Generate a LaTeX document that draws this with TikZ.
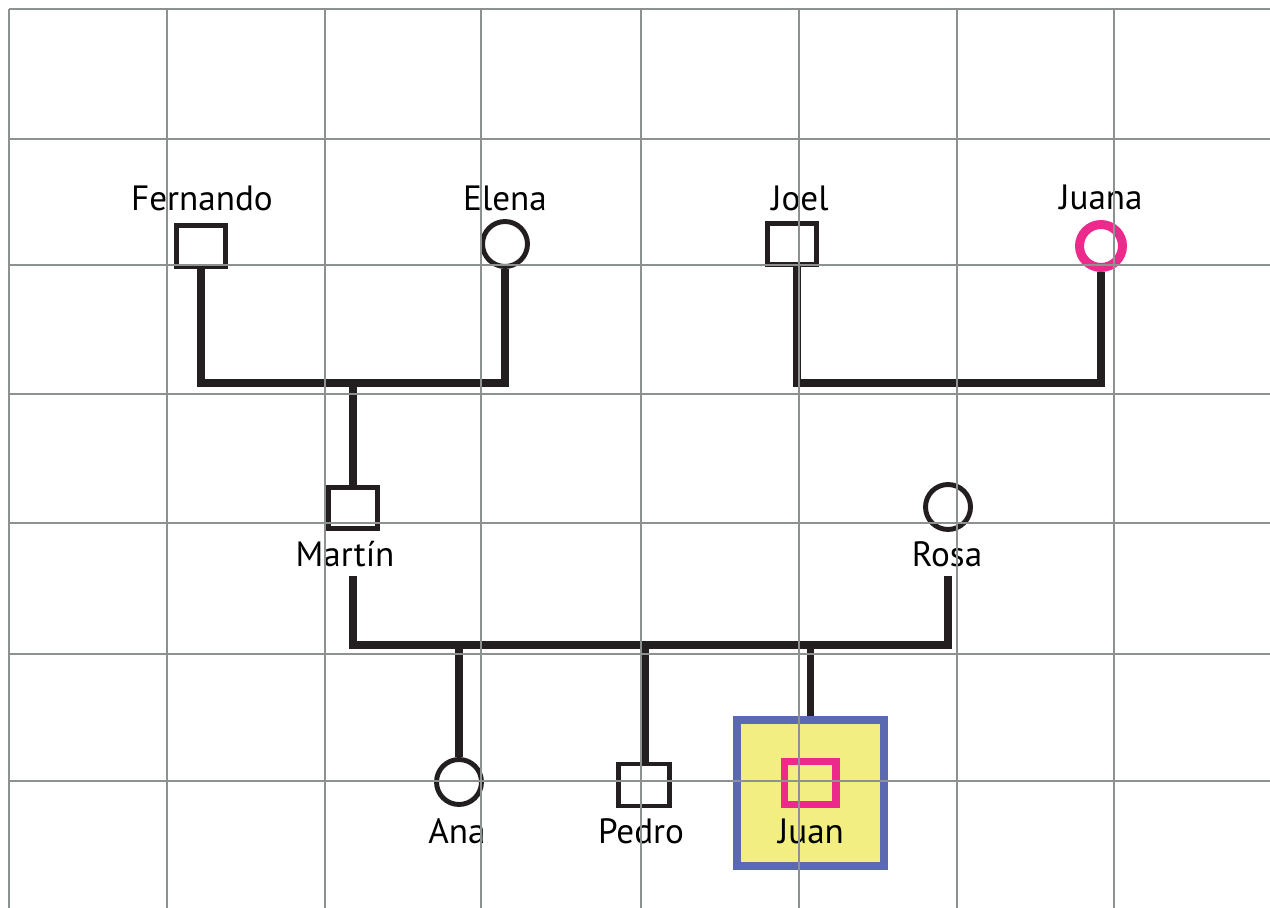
\documentclass[tikz,border=0pt]{standalone}
\usepackage{fontspec}
\setmainfont{PT Sans}
\usetikzlibrary{positioning}

\definecolor{tinta}{HTML}{231F20}
\definecolor{rejillagris}{HTML}{8E9191}
\definecolor{rosado}{HTML}{EC2A8C}
\definecolor{marco}{HTML}{5B6AB0}
\definecolor{amarillo}{HTML}{F2EE82}

\tikzset{
    varon/.style={rectangle, draw=tinta, line width=2.8pt, minimum width=0.98cm, minimum height=0.82cm, inner sep=0pt},
    mujer/.style={circle, draw=tinta, line width=2.8pt, minimum size=0.9cm, inner sep=0pt},
    nombre/.style={anchor=base, inner sep=0pt, font=\fontsize{20}{24}\selectfont},
    lazo/.style={draw=tinta, line width=4.5pt},
    rejilla/.style={draw=rejillagris, line width=1.6pt},
}

\begin{document}
\begin{tikzpicture}[x=0.02cm, y=-0.02cm]

        \useasboundingbox (0,0) rectangle (1270,908);

        \node[varon] (fer) at (201,246) {};
        \node[mujer] (ele) at (505,244) {};
        \node[varon] (joe) at (792,244) {};
        \node[mujer, draw=rosado, line width=5.1pt, minimum size=0.86cm] (jua) at (1101,246) {};
        \node[varon] (mar) at (353,508) {};
        \node[mujer] (ros) at (948,507) {};
        \node[mujer] (ana) at (459,782) {};
        \node[varon, minimum width=1.02cm, minimum height=0.84cm] (ped) at (644,785) {};
        \node[rectangle, draw=marco, fill=amarillo, line width=4.5pt, minimum width=2.94cm, minimum height=2.92cm] (cuadro) at (810.5,793) {};
        \node[varon, draw=rosado, line width=4pt, minimum width=1.04cm, minimum height=0.86cm] (jun) at (810,783) {};

        \node[nombre] (lfer) at (202,211) {Fernando};
        \node[nombre] (lele) at (505,211) {Elena};
        \node[nombre] (ljoe) at (800,211) {Joel};
        \node[nombre] (ljua) at (1101,210) {Juana};
        \node[nombre] (lmar) at (345,566) {Martín};
        \node[nombre] (lros) at (947,566) {Rosa};
        \node[nombre] (lana) at (457,843) {Ana};
        \node[nombre] (lped) at (641,843) {Pedro};
        \node[nombre] (ljun) at (811,843) {Juan};

        \coordinate (pareja1) at (353,383);
        \coordinate (pareja2) at (949,383);
        \coordinate (hijos) at (645,645);
        \coordinate (bmar) at (353,576);
        \coordinate (bros) at (948,576);

        \draw[lazo] (fer.south) |- (pareja1) -| (ele.south);
        \draw[lazo] (pareja1) -- (mar.north);
        \draw[lazo] ([xshift=0.1cm]joe.south) |- (pareja2) -| (jua.south);
        \draw[lazo] (bmar) |- (hijos) -| (bros);
        \draw[lazo] (ana |- hijos) -- (ana.north);
        \draw[lazo] ([xshift=0.02cm]ped.north |- hijos) -- ([xshift=0.02cm]ped.north);
        \draw[lazo] (cuadro.north |- hijos) -- (cuadro.north);

        \foreach \x in {9,167,325,481,641,799,957,1114}
            \draw[rejilla] (\x,9) -- (\x,908);
        \foreach \y in {9,139,265,394,523,654,781}
            \draw[rejilla] (9,\y) -- (1270,\y);

\end{tikzpicture}
\end{document}
